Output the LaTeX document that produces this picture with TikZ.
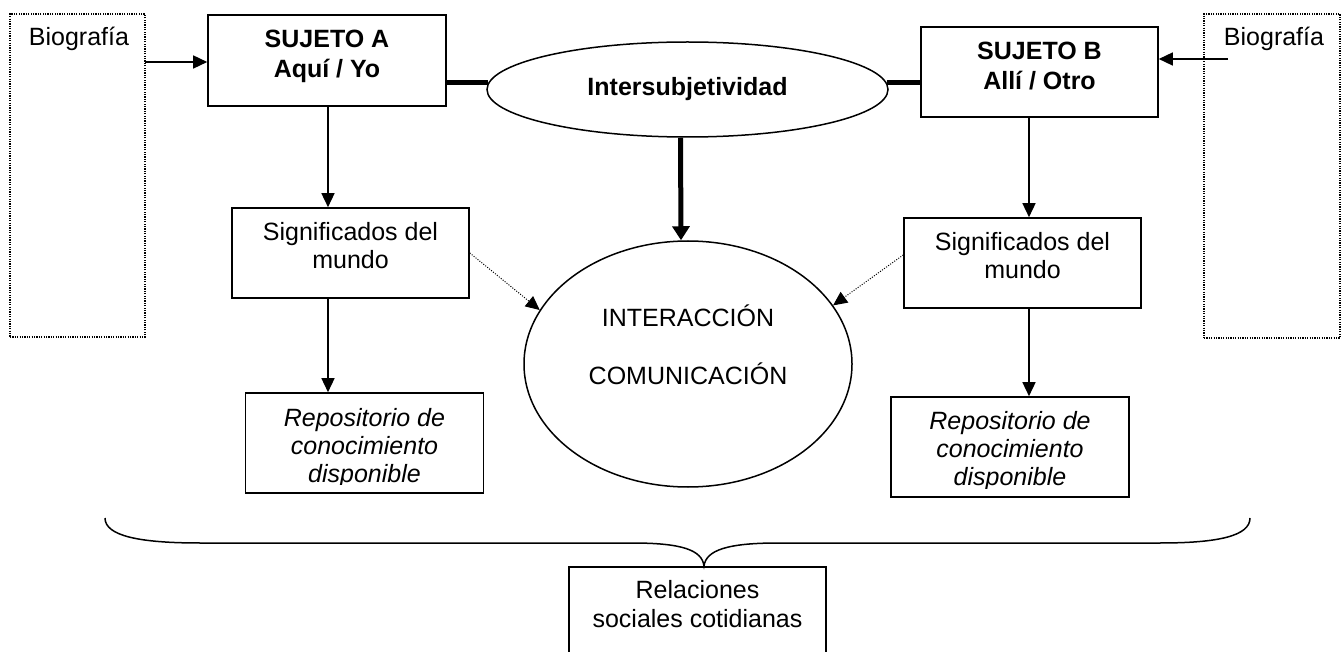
\documentclass[tikz,border=0pt]{standalone}
\usepackage{fontspec}
\setmainfont{Liberation Sans}
\usepackage{tikz}
\usetikzlibrary{arrows,arrows.meta}
\usetikzlibrary{calc}
\usetikzlibrary{shapes.geometric}
\definecolor{trazo}{RGB}{0,0,0}
\newcommand{\repositorio}[3]{
    % #1 = nombre
    % #2 = centro de la caja
    % #3 = bajada del texto
    \node[caja, minimum width=238pt, minimum height=100pt] (#1) at (#2) {};
    \begin{scope}
        \clip ($(#1.north west)+(2,2)$) rectangle ($(#1.south east)+(-2,-9)$);
        \node[cursiva, anchor=north, yshift=-#3] (#1-txt) at (#1.north) {Repositorio de\\conocimiento\\disponible};
    \end{scope}
}

\begin{document}
\begin{tikzpicture}[x=1pt, y=-1pt, trazo,
    caja/.style={draw, line width=1.6pt, rectangle, inner sep=0pt, align=center},
    punteada/.style={draw, line width=1.5pt, dash pattern=on 1.2pt off 1.2pt, inner sep=0pt},
    elipse/.style={draw, line width=1.5pt, ellipse, inner sep=0pt, align=center},
    normal/.style={font=\fontsize{25pt}{28pt}\selectfont, align=center, inner sep=0pt},
    negrita/.style={font=\fontsize{25pt}{30pt}\selectfont\bfseries},
    cursiva/.style={font=\fontsize{25pt}{28pt}\selectfont\itshape, align=center, inner sep=0pt},
    flecha/.style={line width=1.5pt, -{Triangle[length=14pt,width=13pt]}},
    punteo/.style={line width=1pt, dash pattern=on 1pt off 1.5pt, -{Triangle[length=14pt,width=13pt]}},
    gruesa/.style={line width=5pt}]

    \useasboundingbox (0,0) rectangle (1342,652);

    % biografias
    \node[punteada, minimum width=135pt, minimum height=323pt] (bioA) at (77.5,175.5) {};
    \node[normal, anchor=base] (bioAtxt) at (79,46) {Biografía};
    \node[punteada, minimum width=136pt, minimum height=324pt] (bioB) at (1272,176) {};
    \node[normal, anchor=base] (bioBtxt) at (1274,46) {Biografía};

    % sujetos
    \node[caja, negrita, minimum width=238pt, minimum height=91pt, text depth=13.2pt] (sujA) at (327,60.5) {SUJETO A\\Aquí / Yo};
    \node[caja, negrita, minimum width=237pt, minimum height=90pt, text depth=12.2pt] (sujB) at (1039.5,72) {SUJETO B\\Allí / Otro};

    \node[elipse, negrita, minimum width=401pt, minimum height=95pt] (inter) at (687.5,89.5) {Intersubjetividad};

    % significados
    \node[caja, normal, minimum width=237pt, minimum height=90pt, text depth=14.2pt] (sigA) at (350.5,253) {Significados del\\mundo};
    \node[caja, normal, minimum width=237pt, minimum height=90pt, text depth=14.2pt] (sigB) at (1022.5,263) {Significados del\\mundo};

    \node[elipse, normal, minimum width=328pt, minimum height=246pt, text depth=39.4pt] (com) at (688,364) {INTERACCIÓN\\[30pt]COMUNICACIÓN};

    \repositorio{repA}{364.5,443}{15.8pt}
    \repositorio{repB}{1010,447}{14.8pt}

    \node[caja, normal, minimum width=257pt, minimum height=140pt, text depth=65.2pt, font=\fontsize{25pt}{29pt}\selectfont] (rel) at (697.5,637) {Relaciones\\sociales cotidianas};

    % flechas
    \coordinate (bioAout) at (145,62);
    \coordinate (bioBout) at (1228,59);
    \coordinate (colA) at (328,0);
    \coordinate (colB) at (1029,0);

    \draw[flecha] (bioAout) -- (sujA.west |- bioAout);
    \draw[flecha] (bioBout) -- (sujB.east |- bioBout);

    \draw[gruesa] (sujA.east |- inter.178) -- (inter.178);
    \draw[gruesa] (inter.2) -- (sujB.west |- inter.2);
    \draw[gruesa, -{Triangle[length=14pt,width=17pt]}] ([xshift=-7pt]inter.south) -- ([xshift=-7pt]com.north);

    \draw[flecha] (sujA.south -| colA) -- (sigA.north -| colA);
    \draw[flecha] (sigA.south -| colA) -- (repA.north -| colA);
    \draw[flecha] (sujB.south -| colB) -- (sigB.north -| colB);
    \draw[flecha] (sigB.south -| colB) -- (repB.north -| colB);

    \draw[punteo] (sigA.east) -- (com.160);
    \draw[punteo] ([yshift=8pt]sigB.west) -- (com.22);

    % llave
    \draw[line width=1.5pt] (105,518) .. controls (105,536) and (140,543) .. (200,543) -- (632,543)
        .. controls (682,543) and (702,550) .. (704,566)
        .. controls (706,550) and (728,543) .. (778,543) -- (1160,543)
        .. controls (1218,543) and (1250,536) .. (1250,518);

\end{tikzpicture}
\end{document}
